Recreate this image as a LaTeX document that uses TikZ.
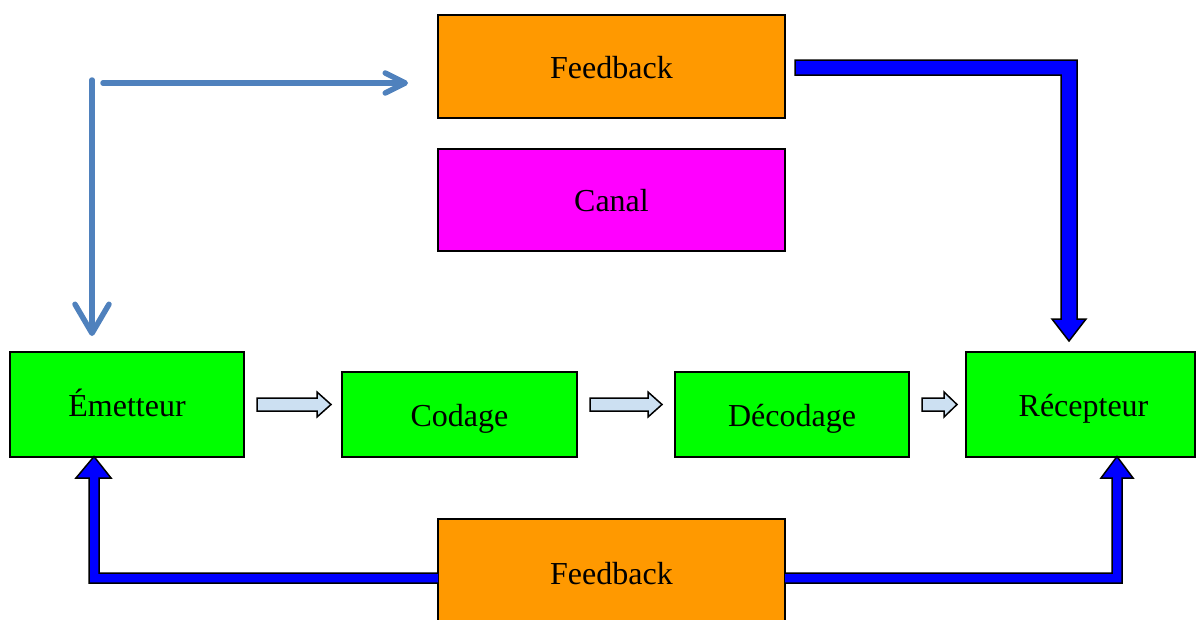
\documentclass[tikz,border=0pt]{standalone}
\usepackage{fontspec}
\setmainfont{Liberation Serif}
\usetikzlibrary{arrows.meta,calc}
\definecolor{cgreen}{RGB}{0,255,0}
\definecolor{corange}{RGB}{255,153,0}
\definecolor{cmag}{RGB}{255,0,255}
\definecolor{cblue}{RGB}{0,0,255}
\definecolor{csteel}{RGB}{79,129,189}
\definecolor{clight}{RGB}{204,224,242}
\tikzset{
  box/.style={draw=black, line width=1.5pt, rectangle, inner sep=0pt, outer sep=0pt,
    font=\fontsize{32}{37}\selectfont, text height=29pt, text depth=6pt},
  bigarrow/.style={fill=cblue, draw=black, line width=1.5pt, line join=miter},
  smallarrow/.style={fill=clight, draw=black, line width=1.5pt, line join=miter},
  thinarrow/.style={draw=csteel, line width=5.5pt, line cap=round}
}
\begin{document}
\begin{tikzpicture}[x=1pt,y=-1pt]
\useasboundingbox (0,0) rectangle (1196,619);
\clip (0,0) rectangle (1196,619);
% boxes
\node[box, fill=corange, minimum width=347pt, minimum height=103pt] (fbtop) at (611.5,66.5) {Feedback};
\node[box, fill=cmag, minimum width=347pt, minimum height=102pt] (canal) at (611.5,200) {Canal};
\node[box, fill=cgreen, minimum width=234pt, minimum height=105pt] (emet) at (127,404.5) {Émetteur};
\node[box, fill=cgreen, minimum width=235pt, minimum height=85pt] (cod) at (459.5,414.5) {Codage};
\node[box, fill=cgreen, minimum width=234pt, minimum height=85pt] (dec) at (792,414.5) {Décodage};
\node[box, fill=cgreen, minimum width=229pt, minimum height=105pt, text width=229pt, align=center] (rec) at (1080.5,404.5) {\hspace*{6pt}Récepteur};
\node[box, fill=corange, minimum width=347pt, minimum height=120pt] (fbbot) at (611.5,579) {};
\node[font=\fontsize{32}{37}\selectfont, inner sep=0pt] (fbbottext) at (611.5,574) {Feedback};
% thick blue arrows
\draw[bigarrow] (795,60) -- (1077,60) -- (1077,319) -- (1086,319) -- (1069,341) -- (1052,319) -- (1061,319) -- (1061,75) -- (795,75) -- cycle;
\draw[bigarrow] (fbbot.west |- 0,573) -- (99,573) -- (99,478) -- (111,478) -- (94,456.5) -- (76,478) -- (89,478) -- (89,583) -- (fbbot.west |- 0,583);
\draw[bigarrow] (fbbot.east |- 0,573) -- (1112,573) -- (1112,478) -- (1101,478) -- (1117,456.5) -- (1133,478) -- (1122,478) -- (1122,583) -- (fbbot.east |- 0,583);
% small hollow arrows
\draw[smallarrow] (257,398) -- (317,398) -- (317,392) -- (331,404.5) -- (317,417) -- (317,411) -- (257,411) -- cycle;
\draw[smallarrow] (590,398) -- (648,398) -- (648,392) -- (662,404.5) -- (648,417) -- (648,411) -- (590,411) -- cycle;
\draw[smallarrow] (922,398) -- (944,398) -- (944,392) -- (957,404.5) -- (944,417) -- (944,411) -- (922,411) -- cycle;
% steel blue arrows
\coordinate (vstart) at (92,80);
\coordinate (vend) at (92,336);
\coordinate (hstart) at (103,83);
\coordinate (hend) at (408,83);
\draw[thinarrow, -{Straight Barb[length=29pt, width=34pt, line cap=round, line join=round]}] (vstart) -- (vend);
\draw[thinarrow, -{Straight Barb[length=20pt, width=20pt, line cap=round, line join=round]}] (hstart) -- (hend);
\end{tikzpicture}
\end{document}
